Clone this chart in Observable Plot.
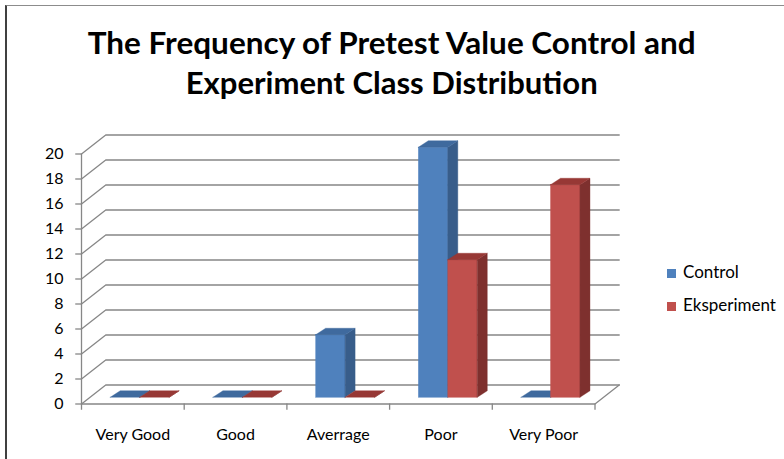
<!DOCTYPE html>
<html>
<head>
<meta charset="utf-8">
<script src="https://cdn.jsdelivr.net/npm/d3@7"></script>
<script src="https://cdn.jsdelivr.net/npm/@observablehq/plot@0.6"></script>
<style>
  html, body { margin: 0; padding: 0; background: #fff; }
  #wrap { position: relative; width: 784px; height: 459px; overflow: hidden; background: #fff; font-family: Lato, "Open Sans", sans-serif; }
  #frame { position: absolute; left: 5px; top: 5px; width: 800px; height: 470px; border-left: 2px solid #404040; border-top: 1px solid #8c8c8c; }
  .tl { position: absolute; left: 0; width: 784px; text-align: center; font-weight: 700; font-size: 29.5px; line-height: 35px; color: #000; white-space: nowrap; }
  .tl span { display: inline-block; transform-origin: center; }
  .lg { position: absolute; left: 667px; font-size: 17px; line-height: 20px; color: #000; white-space: nowrap; }
  .lg i { display: inline-block; width: 9px; height: 9px; margin-right: 7px; vertical-align: 0px; }
  #chart { position: absolute; left: 0; top: 0; }
</style>
</head>
<body>
<div id="wrap">
  <div id="frame"></div>
  <div class="tl" id="t1" style="top:25px"><span>The Frequency of Pretest Value Control and</span></div>
  <div class="tl" id="t2" style="top:65px"><span>Experiment Class Distribution</span></div>
  <div class="lg" style="top:262px"><i style="background:#4F81BD"></i>Control</div>
  <div class="lg" style="top:295px"><i style="background:#C0504D"></i>Eksperiment</div>
  <div id="chart"></div>
</div>
<script>
// ---- data ----
const categories = ["Very Good", "Good", "Averrage", "Poor", "Very Poor"];
const control = [0, 0, 5, 20, 0];
const eksperiment = [0, 0, 0, 11, 17];
const yTicks = [0, 2, 4, 6, 8, 10, 12, 14, 16, 18, 20];
const seriesNames = ["Control", "Eksperiment"];

// ---- 3D geometry (in data units) ----
const BX = 0.236, BY = 1.52;     // back wall offset
const OY = 0.5;                  // bar base depth offset
const DX = 0.097, DY = 0.52;     // bar depth
const W = 0.287;                 // bar width
const X0 = [0.285, 0.285 + W];   // bar front left offsets per series

function faces(vals, s) {
  const front = [], side = [], top = [];
  vals.forEach((v, i) => {
    const x1 = i + X0[s], x2 = x1 + W;
    front.push({x1, x2, y1: OY, y2: v + OY});
    side.push({z: i, x: x2, y1: OY, y2: v + OY});
    side.push({z: i, x: x2 + DX, y1: OY + DY, y2: v + OY + DY});
    const t = v + OY;
    top.push({z: i, x: x1, y1: t, y2: t});
    top.push({z: i, x: x1 + DX, y1: t, y2: t + DY});
    top.push({z: i, x: x2, y1: t, y2: t + DY});
    top.push({z: i, x: x2 + DX, y1: t + DY, y2: t + DY});
  });
  return {front, side, top};
}
const colors = [
  {front: "#4F81BD", side: "#385D8A", top: "#3F6A9E"},
  {front: "#C0504D", side: "#7E302E", top: "#973835"}
];

const grid = yTicks.flatMap(v => [
  {g: v, x: 0, y: v}, {g: v, x: BX, y: v + BY}, {g: v, x: categories.length + BX, y: v + BY}
]);
const floor = [{x: 0, y: 0}, {x: categories.length, y: 0}, {x: categories.length + BX, y: BY}];
const catIdx = categories.map((c, i) => i);
const bounds = d3.range(categories.length + 1);

const gridColor = "#878787";
const marks = [
  Plot.line(grid, {x: "x", y: "y", z: "g", stroke: gridColor, strokeWidth: 1.3}),
  Plot.line(floor, {x: "x", y: "y", stroke: gridColor, strokeWidth: 1.3}),
  Plot.ruleX([0], {y1: 0, y2: 20, stroke: gridColor, strokeWidth: 1.3}),
  Plot.ruleY(yTicks, {x1: -0.056, x2: 0, stroke: gridColor, strokeWidth: 1.3}),
  Plot.ruleX(bounds, {y1: 0, y2: -0.5, stroke: gridColor, strokeWidth: 1.3})
];
[control, eksperiment].forEach((vals, s) => {
  const f = faces(vals, s), c = colors[s];
  marks.push(Plot.rect(f.front, {x1: "x1", x2: "x2", y1: "y1", y2: "y2", fill: c.front, stroke: c.front, strokeWidth: 0.4}));
  marks.push(Plot.areaY(f.side, {x: "x", y1: "y1", y2: "y2", z: "z", fill: c.side, stroke: c.side, strokeWidth: 0.4}));
  marks.push(Plot.areaY(f.top, {x: "x", y1: "y1", y2: "y2", z: "z", fill: c.top, stroke: c.top, strokeWidth: 0.4}));
});

const chart = Plot.plot({
  width: 784,
  height: 459,
  marginLeft: 81,
  marginBottom: 55.5,
  marginTop: 0,
  marginRight: 0,
  style: {background: "transparent", fontFamily: "Lato, 'Open Sans', sans-serif", fontSize: "16px", color: "#000", overflow: "visible"},
  x: {type: "linear", domain: [0, categories.length], range: [81, 594.5], ticks: catIdx.map(i => i + 0.5),
      tickFormat: d => categories[Math.floor(d)], tickSize: 0, tickPadding: 25, label: null},
  y: {type: "linear", domain: [0, 20], range: [403.5, 153.5], ticks: yTicks, tickFormat: d => String(d), tickSize: 0, tickPadding: 18, label: null},
  marks
});
document.getElementById("chart").appendChild(chart);

// fit title widths to the reference
[["t1", 608], ["t2", 412]].forEach(([id, w]) => {
  const sp = document.querySelector("#" + id + " span");
  const cw = sp.getBoundingClientRect().width;
  if (cw > 0) sp.style.transform = `scaleX(${w / cw})`;
});
</script>
</body>
</html>
